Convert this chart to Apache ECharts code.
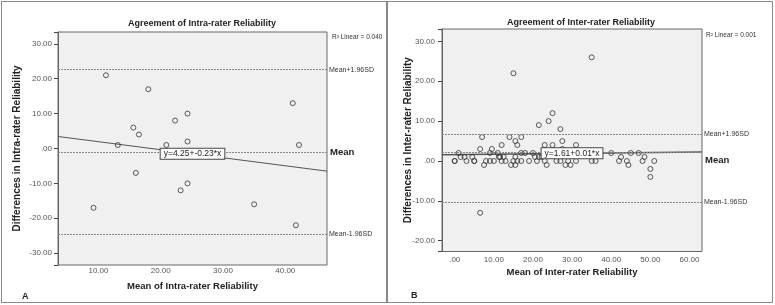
<!DOCTYPE html>
<html><head><meta charset="utf-8">
<script src="https://cdn.jsdelivr.net/npm/echarts@6/dist/echarts.min.js"></script>
<style>html,body{margin:0;padding:0;background:#fff}#c{width:775px;height:305px}</style>
</head><body><div id="c"></div>
<script>
// ---- Data (A: intra-rater) ----
const intraX = [11.2, 18.0, 41.2, 24.3, 22.3, 15.6, 16.5, 13.1, 20.9, 24.3, 42.2, 16.0, 9.2, 23.2, 24.3, 35.0, 41.7];
const intraY = [21, 17, 13, 10, 8, 6, 4, 1, 1, 2, 1, -7, -17, -12, -10, -16, -22];
// ---- Data (B: inter-rater) ----
const interX = [35, 15, 25, 24, 21.5, 27,
  7, 14, 17, 15.5, 27.5, 12, 16, 23, 25, 31, 6.5, 9.5, 27.5,
  1, 9, 11, 17, 18, 20, 40, 45, 47,
  1.5, 2.5, 4.5, 11.3, 11.6, 12.5, 15.5, 20.5, 21.5, 22.2, 42.5, 48.5,
  0, 0, 3, 5, 5, 8, 9, 10, 12, 13, 15, 16, 17, 19, 21, 23, 26, 27, 29, 31, 35, 36, 42, 44, 48, 51,
  7.5, 14.4, 15.5, 23.5, 28.3, 29.6, 44.4,
  50, 50, 6.5];
const interY = [26, 22, 12, 10, 9, 8,
  6, 6, 6, 5, 5, 4, 4, 4, 4, 4, 3, 3, 3,
  2, 2, 2, 2, 2, 2, 2, 2, 2,
  1, 1, 1, 1, 1, 1, 1, 1, 1, 1, 1, 1,
  0, 0, 0, 0, 0, 0, 0, 0, 0, 0, 0, 0, 0, 0, 0, 0, 0, 0, 0, 0, 0, 0, 0, 0, 0, 0,
  -1, -1, -1, -1, -1, -1, -1,
  -2, -4, -13];
// ---- Tick labels ----
const intraTicksX = [10, 20, 30, 40];
const intraTicksY = [-30, -20, -10, 0, 10, 20, 30];
const interTicksX = [0, 10, 20, 30, 40, 50, 60];
const interTicksY = [-20, -10, 0, 10, 20, 30];
// ---- Reference lines (Mean+1.96SD, Mean, Mean-1.96SD) ----
const refLabels = ['Mean+1.96SD', 'Mean', 'Mean-1.96SD'];
const intraRef = [22.6, -1.1, -24.6];
const interRef = [6.66, 2.1, -10.25];
// ---- Fit lines [intercept, slope] and R² ----
const intraFit = [4.25, -0.23];
const interFit = [1.61, 0.01];
const intraR2 = '0.040';
const interR2 = '0.001';
const intraRange = [3.5, 46.7, -33.4, 33.4];
const interRange = [-3.25, 63.2, -22.7, 33.1];

const FONT = '"Liberation Sans", Arial, sans-serif';
const fmt = v => v === 0 ? '.00' : v.toFixed(2);

function axes(gi, rng, tx, ty, xname, yname, xm, xg, ym, yg) {
  return {
    x: {
      gridIndex: gi, type: 'value', min: rng[0], max: rng[1], position: 'bottom',
      axisLine: {show: false, onZero: false}, axisTick: {show: false}, splitLine: {show: false},
      axisLabel: {customValues: tx, formatter: fmt, fontSize: 8, color: '#555', margin: xm, fontFamily: FONT},
      name: xname, nameLocation: 'middle', nameGap: xg, nameMoveOverlap: false,
      nameTextStyle: {fontWeight: 'bold', fontSize: 9.5, color: '#222', fontFamily: FONT}
    },
    y: {
      gridIndex: gi, type: 'value', min: rng[2], max: rng[3], position: 'left', splitNumber: 5,
      axisLine: {show: true, onZero: false, lineStyle: {color: '#666', width: 1}}, splitLine: {show: false},
      axisTick: {show: true, inside: false, length: 4, lineStyle: {color: '#444', width: 1}},
      axisLabel: {customValues: ty, formatter: fmt, fontSize: 8, color: '#555', margin: ym, fontFamily: FONT},
      name: yname, nameLocation: 'middle', nameGap: yg, nameRotate: 90, nameMoveOverlap: false,
      nameTextStyle: {fontWeight: 'bold', fontSize: 10, color: '#222', fontFamily: FONT}
    }
  };
}

function series(i, xs, ys, ref, fit, rng, meanBelow, lw) {
  const lbl = 'y=' + fit[0].toFixed(2) + '+' + fit[1].toFixed(2) + '*x';
  const mid = (rng[0] + rng[1]) / 2;
  return [
    {
      type: 'scatter', xAxisIndex: i, yAxisIndex: i, symbol: 'circle', symbolSize: 5,
      itemStyle: {color: 'rgba(0,0,0,0)', borderColor: '#333', borderWidth: 1},
      data: xs.map((x, k) => [x, ys[k]]), z: 3,
      markLine: {
        silent: true, symbol: ['none', 'none'],
        lineStyle: {type: [2, 1], color: '#888', width: 1},
        data: ref.map((v, k) => ({
          yAxis: v,
          label: k === 1 ?
            Object.assign({show: true, position: 'end', formatter: refLabels[k], fontSize: 9.5, fontWeight: 'bold', color: '#222', fontFamily: FONT, distance: 3},
              meanBelow ? {verticalAlign: 'top', padding: [3, 0, 0, 0]} : {}) :
            {show: true, position: 'end', formatter: refLabels[k], fontSize: 7, color: '#333', fontFamily: FONT, distance: 2}
        }))
      }
    },
    {
      type: 'line', xAxisIndex: i, yAxisIndex: i, symbol: 'none', z: 2,
      lineStyle: {color: '#555', width: lw},
      data: [[rng[0], fit[0] + fit[1] * rng[0]], [rng[1], fit[0] + fit[1] * rng[1]]],
      markPoint: {
        symbol: 'rect', symbolSize: 0.1,
        data: [{coord: [mid, fit[0] + fit[1] * mid]}],
        label: {show: true, position: 'inside', formatter: lbl, fontSize: 8.5, color: '#222', fontFamily: FONT,
          backgroundColor: '#fff', borderColor: '#444', borderWidth: 1, padding: [1, 3, 0, 3]}
      }
    }
  ];
}

const a1 = axes(0, intraRange, intraTicksX, intraTicksY, 'Mean of Intra-rater Reliability', 'Differences in Intra-rater Reliability', 2, 16, 6, 36);
const a2 = axes(1, interRange, interTicksX, interTicksY, 'Mean of Inter-rater Reliability', 'Differences in Inter-rater Reliability', 4, 15.5, 7, 29);

const chart = echarts.init(document.getElementById('c'), null, {renderer: 'canvas'});
chart.setOption({
  animation: false,
  backgroundColor: '#fff',
  textStyle: {fontFamily: FONT},
  grid: [
    {left: 58, top: 32, width: 269, height: 233, show: true, backgroundColor: '#f0f0f0', borderColor: '#666', borderWidth: 1},
    {left: 442, top: 29, width: 260, height: 222.5, show: true, backgroundColor: '#f0f0f0', borderColor: '#666', borderWidth: 1}
  ],
  title: [
    {text: 'Agreement of Intra-rater Reliability', left: 197, top: 14, textAlign: 'center', textStyle: {fontSize: 9, fontWeight: 'bold', color: '#222', fontFamily: FONT}},
    {text: 'Agreement of Inter-rater Reliability', left: 576, top: 13, textAlign: 'center', textStyle: {fontSize: 9, fontWeight: 'bold', color: '#222', fontFamily: FONT}},
    {text: 'R² Linear = ' + intraR2, left: 327, top: 29, textStyle: {fontSize: 6.5, fontWeight: 'normal', color: '#333', fontFamily: FONT}},
    {text: 'R² Linear = ' + interR2, left: 701, top: 27, textStyle: {fontSize: 6.5, fontWeight: 'normal', color: '#333', fontFamily: FONT}},
    {text: 'A', left: 17, top: 287, textStyle: {fontSize: 9, fontWeight: 'bold', color: '#222', fontFamily: FONT}},
    {text: 'B', left: 406, top: 286, textStyle: {fontSize: 9, fontWeight: 'bold', color: '#222', fontFamily: FONT}}
  ],
  xAxis: [a1.x, a2.x],
  yAxis: [a1.y, a2.y],
  series: [].concat(
    series(0, intraX, intraY, intraRef, intraFit, intraRange, false, 1),
    series(1, interX, interY, interRef, interFit, interRange, true, 1.5)
  ),
  graphic: [
    {type: 'rect', shape: {x: 1.5, y: 1.5, width: 386, height: 301}, style: {fill: 'none', stroke: '#888', lineWidth: 1}, silent: true},
    {type: 'rect', shape: {x: 386.5, y: 1.5, width: 386, height: 301}, style: {fill: 'none', stroke: '#888', lineWidth: 1}, silent: true}
  ]
});
</script>
</body></html>
